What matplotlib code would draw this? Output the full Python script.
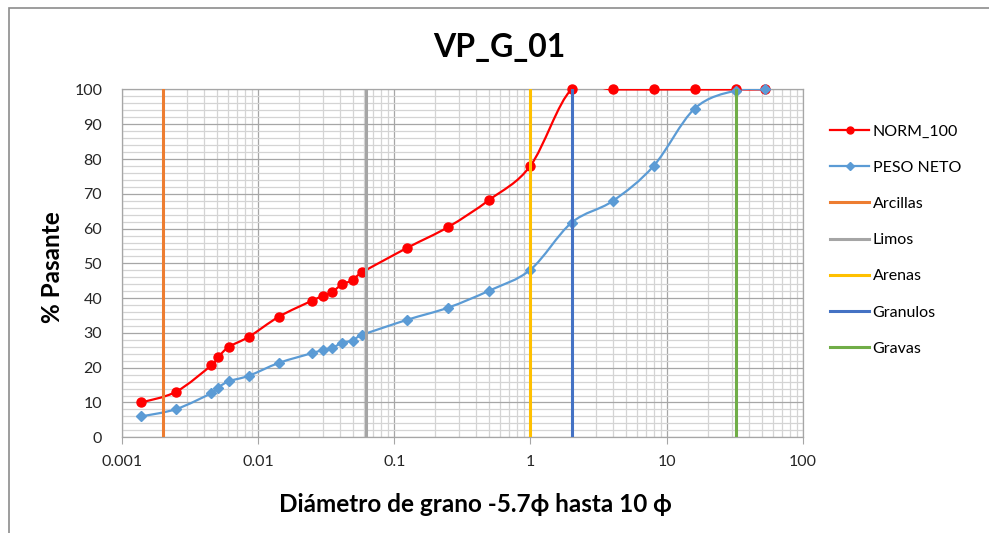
import numpy as np
import matplotlib.pyplot as plt
from matplotlib.path import Path
from matplotlib.patches import PathPatch, Rectangle
from matplotlib.lines import Line2D

plt.rcParams['font.family'] = ['Lato', 'DejaVu Sans']

# datos de la curva granulometrica (diametro en mm, % pasante)
diametro = [0.00139, 0.00251, 0.00455, 0.00509, 0.00613, 0.00859, 0.0143,
            0.0250, 0.0301, 0.0348, 0.0416, 0.0501, 0.0581,
            0.125, 0.25, 0.5, 1, 2, 4, 8, 16, 32, 53]
norm_100 = [10.0, 13.1, 20.7, 23.0, 26.0, 28.9, 34.7,
            39.3, 40.7, 41.7, 44.0, 45.2, 47.4,
            54.5, 60.5, 68.3, 78.1, 100, 100, 100, 100, 100, 100]
peso_neto = [6.0, 8.1, 12.7, 14.3, 16.1, 17.7, 21.4,
             24.2, 25.1, 25.6, 27.2, 27.8, 29.4,
             33.8, 37.3, 42.2, 48.2, 61.7, 67.9, 78.0, 94.5, 99.7, 100]

# limites de clases
limites = ['Arcillas', 'Limos', 'Arenas', 'Granulos', 'Gravas']
limites_mm = [0.002, 0.0625, 1, 2, 32]
colores_lim = ['#ED7D31', '#A5A5A5', '#FFC000', '#4472C4', '#70AD47']

xticks = [0.001, 0.01, 0.1, 1, 10, 100]
xtick_labels = ['0.001', '0.01', '0.1', '1', '10', '100']

ROJO = '#FF0000'
AZUL = '#5B9BD5'


def curva_suave(x, y):
    # linea suavizada tipo Excel (bezier, en espacio log-x)
    pts = np.column_stack([np.log10(x), np.asarray(y, float)])
    n = len(pts)
    verts = [pts[0]]
    codes = [Path.MOVETO]
    for i in range(n - 1):
        p0 = pts[max(i - 1, 0)]
        p1 = pts[i]
        p2 = pts[i + 1]
        p3 = pts[min(i + 2, n - 1)]
        verts += [p1 + (p2 - p0) / 6, p2 - (p3 - p1) / 6, p2]
        codes += [Path.CURVE4] * 3
    verts = np.array(verts)
    verts[:, 0] = 10 ** verts[:, 0]
    return Path(verts, codes)


fig = plt.figure(figsize=(9.89, 5.33), dpi=100)
ax = fig.add_axes([0.123, 0.1796, 0.689, 0.6525])
fig.patches.append(Rectangle((9 / 989, -0.1), 1.2, 1.1 - 8 / 533,
                             transform=fig.transFigure, fill=False,
                             edgecolor='#8C8C8C', lw=1.2))

ax.set_xscale('log')
ax.set_xlim(0.001, 100)
ax.set_ylim(0, 100)

ax.add_patch(PathPatch(curva_suave(diametro, norm_100), fill=False,
                       edgecolor=ROJO, lw=1.6, zorder=3))
ax.plot(diametro, norm_100, ls='none', marker='o', ms=6.5, color=ROJO,
        clip_on=False, zorder=4)
ax.add_patch(PathPatch(curva_suave(diametro, peso_neto), fill=False,
                       edgecolor=AZUL, lw=1.6, zorder=3))
ax.plot(diametro, peso_neto, ls='none', marker='D', ms=5, color=AZUL,
        clip_on=False, zorder=4)

for xl, c in zip(limites_mm, colores_lim):
    ax.axvline(xl, color=c, lw=2.2, zorder=5)

ax.set_xticks(xticks)
ax.set_xticklabels(xtick_labels)
ax.set_yticks(range(0, 101, 10))
ax.set_yticks(range(0, 101, 2), minor=True)
ax.grid(which='major', color='#A6A6A6', lw=0.9)
ax.grid(which='minor', color='#D4D4D4', lw=0.9)
ax.set_axisbelow(True)
ax.tick_params(axis='x', which='major', length=5, color='#A6A6A6', pad=8,
               labelsize=11.5, labelcolor='#262626')
ax.tick_params(axis='x', which='minor', length=0)
ax.tick_params(axis='y', which='both', length=0, pad=14,
               labelsize=11.5, labelcolor='#262626')
for s in ax.spines.values():
    s.set_color('#A6A6A6')
    s.set_linewidth(0.9)

fig.text(0.5045, 1 - 47 / 533, 'VP_G_01', ha='center', va='center',
         fontsize=23, fontweight='bold')
fig.text(475 / 989, 1 - 505 / 533, 'Diámetro de grano -5.7\u03d5 hasta 10 \u03d5',
         ha='center', va='center', fontsize=17.5, fontweight='bold')
fig.text(52 / 989, 1 - 267 / 533, '% Pasante', ha='center', va='center',
         rotation=90, fontsize=17.5, fontweight='bold')

handles = [Line2D([], [], color=ROJO, lw=1.6, marker='o', ms=5),
           Line2D([], [], color=AZUL, lw=1.6, marker='D', ms=4)]
handles += [Line2D([], [], color=c, lw=2.2) for c in colores_lim]
fig.legend(handles, ['NORM_100', 'PESO NETO'] + limites,
           loc='upper left', bbox_to_anchor=(824 / 989, 1 - 118 / 533),
           frameon=False, fontsize=11.5, handlelength=2.4, handletextpad=0.25,
           labelspacing=1.38, borderaxespad=0)

fig.savefig('out.png', dpi=100)
